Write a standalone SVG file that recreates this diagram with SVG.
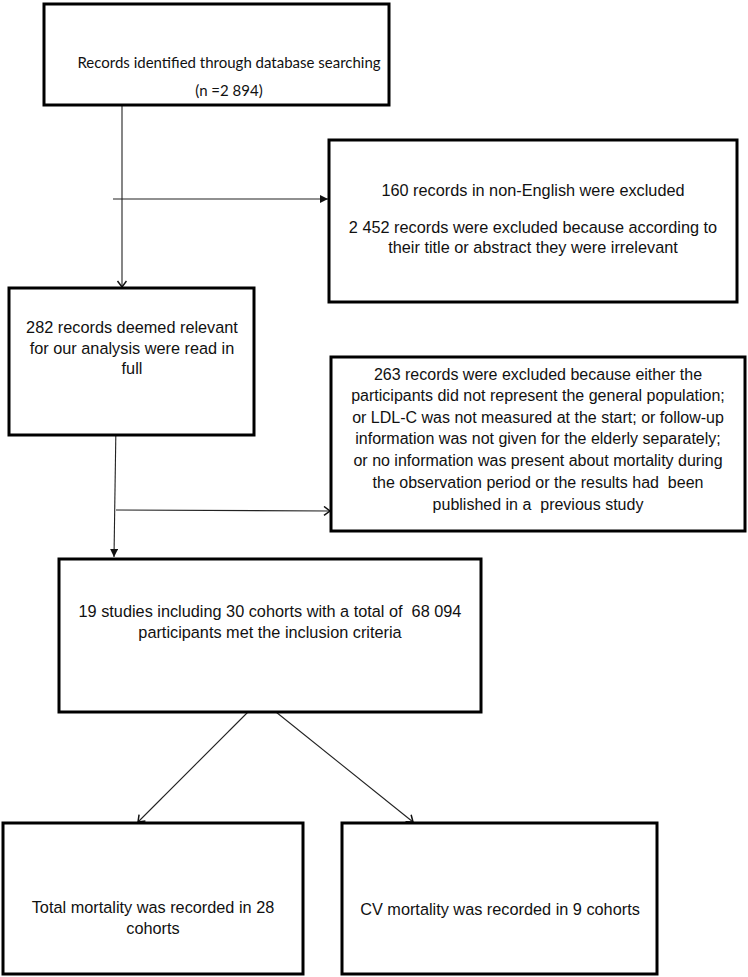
<svg xmlns="http://www.w3.org/2000/svg" width="748" height="977" viewBox="0 0 748 977">
<style>
.box{fill:#fff;stroke:#000;stroke-width:3}
.t{font-family:"Liberation Sans",Arial,sans-serif;font-size:16.3px;fill:#111;text-anchor:middle;white-space:pre}
.s{font-size:16px}
.c{font-family:Lato,"Open Sans",sans-serif;font-size:15px;fill:#111;text-anchor:middle;white-space:pre}
.ln{fill:none;stroke:#222;stroke-width:1.1}
</style>
<defs>
<marker id="open" markerUnits="userSpaceOnUse" markerWidth="12" markerHeight="12" refX="7" refY="5" orient="auto">
<path d="M1,0.5 L7,5 L1,9.5" fill="none" stroke="#111" stroke-width="1.5"/>
</marker>
<marker id="solid" markerUnits="userSpaceOnUse" markerWidth="12" markerHeight="12" refX="8" refY="4" orient="auto">
<path d="M0,0 L8,4 L0,8 Z" fill="#111"/>
</marker>
</defs>
<g id="connectors">
<line class="ln" x1="122" y1="105" x2="122" y2="287" marker-end="url(#open)"/>
<line class="ln" x1="113" y1="199" x2="328" y2="199" marker-end="url(#solid)"/>
<line class="ln" x1="116" y1="423" x2="114" y2="557" marker-end="url(#solid)"/>
<line class="ln" x1="116" y1="510" x2="330" y2="511" marker-end="url(#open)"/>
<line class="ln" x1="252" y1="708" x2="138" y2="822" marker-end="url(#open)"/>
<line class="ln" x1="271" y1="708" x2="413" y2="822" marker-end="url(#open)"/>
</g>
<g id="n1">
<rect class="box" x="44" y="4" width="345" height="101"/>
<text class="c" x="229" y="68">Records identified through database searching</text>
<text class="c" x="229" y="96">(n =2 894)</text>
</g>
<g id="n2">
<rect class="box" x="329" y="140" width="408" height="162"/>
<text class="t" x="533" y="196">160 records in non-English were excluded</text>
<text class="t" x="533" y="233">2 452 records were excluded because according to</text>
<text class="t" x="533" y="253">their title or abstract they were irrelevant</text>
</g>
<g id="n3">
<rect class="box" x="9" y="288" width="245" height="147"/>
<text class="t" x="132" y="333">282 records deemed relevant</text>
<text class="t" x="132" y="354">for our analysis were read in</text>
<text class="t" x="132" y="374">full</text>
</g>
<g id="n4">
<rect class="box" x="331" y="357" width="414" height="174"/>
<text class="t s" x="538" y="380">263 records were excluded because either the</text>
<text class="t s" x="538" y="401">participants did not represent the general population;</text>
<text class="t s" x="538" y="423">or LDL-C was not measured at the start; or follow-up</text>
<text class="t s" x="538" y="444">information was not given for the elderly separately;</text>
<text class="t s" x="538" y="466">or no information was present about mortality during</text>
<text class="t s" x="538" y="488">the observation period or the results had  been</text>
<text class="t s" x="538" y="510">published in a  previous study</text>
</g>
<g id="n5">
<rect class="box" x="59" y="559" width="422" height="153"/>
<text class="t" x="270" y="617">19 studies including 30 cohorts with a total of  68 094</text>
<text class="t" x="270" y="638">participants met the inclusion criteria</text>
</g>
<g id="n6">
<rect class="box" x="3" y="823" width="300" height="151"/>
<text class="t" x="153" y="913">Total mortality was recorded in 28</text>
<text class="t" x="153" y="934">cohorts</text>
</g>
<g id="n7">
<rect class="box" x="342" y="823" width="315" height="151"/>
<text class="t" x="500" y="915">CV mortality was recorded in 9 cohorts</text>
</g>
</svg>
